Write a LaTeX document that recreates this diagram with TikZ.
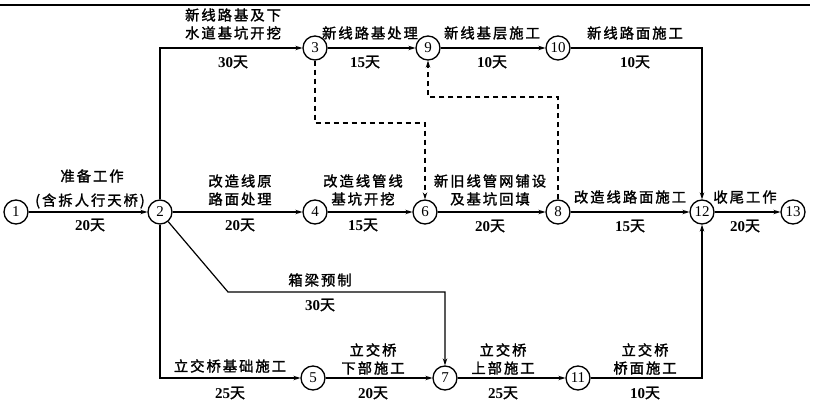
\documentclass[tikz,border=0pt]{standalone}
\usepackage{fontspec}
\setmainfont{Liberation Serif}
\newfontfamily\cjk[LetterSpace=14,FakeBold=1.6]{Noto Sans CJK SC}
\usetikzlibrary{arrows.meta}
\newcommand\dtian{{\cjk\mdseries 天}}
\begin{document}
\begin{tikzpicture}[x=1pt,y=-1pt,
  ev/.style={circle,draw,line width=1.3pt,minimum size=24pt,inner sep=0pt,fill=white,font=\fontsize{15}{15}\selectfont},
  lab/.style={font=\cjk\fontsize{14.3}{18}\selectfont,align=center,inner sep=0pt},
  dur/.style={font=\fontsize{15}{15}\selectfont\bfseries,inner sep=0pt},
  arr/.style={line width=1.2pt,-{Stealth[length=7pt,width=4.5pt]}},
  ln/.style={line width=1.2pt},
  dsh/.style={line width=1.1pt,dash pattern=on 5pt off 4pt,-{Stealth[length=7pt,width=4.5pt]}}]
\useasboundingbox (0,0) rectangle (816,403);
\draw[line width=1.3pt] (0,5) -- (810,5);
% events
\node[ev] (n1) at (16,212) {1};
\node[ev] (n2) at (160,212) {2};
\node[ev] (n3) at (315,48) {3};
\node[ev] (n4) at (315,212) {4};
\node[ev] (n5) at (313,378) {5};
\node[ev] (n6) at (425,212) {6};
\node[ev] (n7) at (445,378) {7};
\node[ev] (n8) at (558,212) {8};
\node[ev] (n9) at (428,48) {9};
\node[ev] (n10) at (558,48) {10};
\node[ev] (n11) at (578,378) {11};
\node[ev] (n12) at (702,212) {12};
\node[ev] (n13) at (793,212) {13};
\coordinate (k1) at (228,292);
\coordinate (dy1) at (0,123);
\coordinate (dy2) at (0,97);
% connectors
\draw[arr] (n1) -- (n2);
\draw[arr] (n2) -- (n4);
\draw[arr] (n4) -- (n6);
\draw[arr] (n6) -- (n8);
\draw[arr] (n8) -- (n12);
\draw[arr] (n12) -- (n13);
\draw[arr] (n2) |- (n3);
\draw[arr] (n3) -- (n9);
\draw[arr] (n9) -- (n10);
\draw[arr] (n10) -| (n12);
\draw[arr] (n2) |- (n5);
\draw[arr] (n5) -- (n7);
\draw[arr] (n7) -- (n11);
\draw[arr] (n11) -| (n12);
\draw[arr] (n2) -- (k1) -| (n7);
\draw[dsh] (n3) -- (n3 |- dy1) -- (n6 |- dy1) -- (n6);
\draw[dsh] (n8) -- (n8 |- dy2) -- (n9 |- dy2) -- (n9);
% labels
\node[lab] (t12a) at (92,176) {准备工作};
\node[lab] (t12b) at (90,201) {(含拆人行天桥)};
\node[dur] (d12) at (90,225) {20\dtian};
\node[lab] (t24) at (240,190) {改造线原\\路面处理};
\node[dur] (d24) at (240,225) {20\dtian};
\node[lab] (t46) at (363,190) {改造线管线\\基坑开挖};
\node[dur] (d46) at (363,225) {15\dtian};
\node[lab] (t68) at (490,190) {新旧线管网铺设\\及基坑回填};
\node[dur] (d68) at (490,226) {20\dtian};
\node[lab] (t812) at (630,197) {改造线路面施工};
\node[dur] (d812) at (630,226) {15\dtian};
\node[lab] (t1213) at (745,197) {收尾工作};
\node[dur] (d1213) at (745,226) {20\dtian};
\node[lab] (t23) at (233,24) {新线路基及下\\水道基坑开挖};
\node[dur] (d23) at (233,62) {30\dtian};
\node[lab] (t39) at (370,33) {新线路基处理};
\node[dur] (d39) at (365,62) {15\dtian};
\node[lab] (t910) at (492,33) {新线基层施工};
\node[dur] (d910) at (492,62) {10\dtian};
\node[lab] (t1012) at (635,33) {新线路面施工};
\node[dur] (d1012) at (635,62) {10\dtian};
\node[lab] (t27) at (320,280) {箱梁预制};
\node[dur] (d27) at (320,305) {30\dtian};
\node[lab] (t25) at (230,366) {立交桥基础施工};
\node[dur] (d25) at (230,393) {25\dtian};
\node[lab] (t57) at (373,359) {立交桥\\下部施工};
\node[dur] (d57) at (373,393) {20\dtian};
\node[lab] (t711) at (503,359) {立交桥\\上部施工};
\node[dur] (d711) at (503,393) {25\dtian};
\node[lab] (t1112) at (645,359) {立交桥\\桥面施工};
\node[dur] (d1112) at (645,393) {10\dtian};
\end{tikzpicture}
\end{document}
